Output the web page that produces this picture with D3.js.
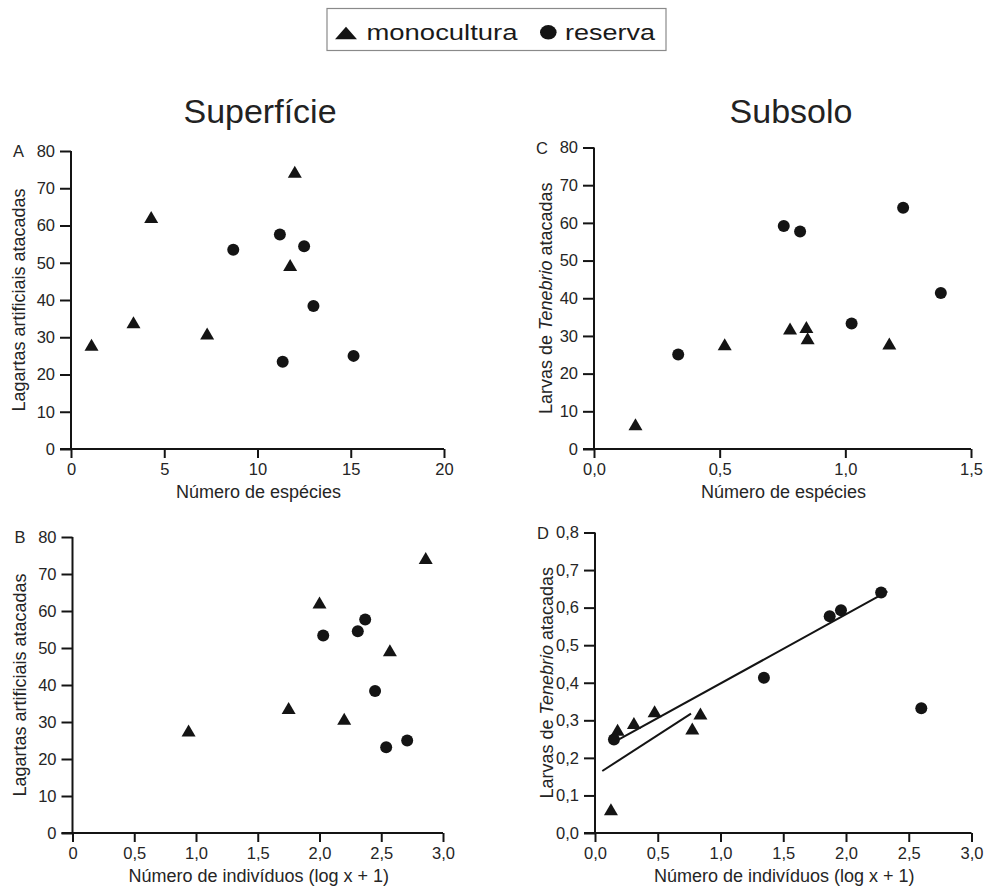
<!DOCTYPE html>
<html>
<head>
<meta charset="utf-8">
<script src="https://cdn.jsdelivr.net/npm/d3@7"></script>
<style>
  html, body { margin: 0; padding: 0; background: #fff; }
  svg { display: block; font-family: "Liberation Sans", Arial, sans-serif; }
</style>
</head>
<body>
<svg id="chart" width="987" height="890"></svg>
<script>
// ---------- DATA ----------
const seriesNames = ["monocultura", "reserva"];
const columnTitles = ["Superfície", "Subsolo"];

// Panel A: Superfície, número de espécies
const A_mono_x = [1.1, 3.35, 4.3, 7.3, 11.75, 12.0];
const A_mono_y = [28.0, 34.0, 62.3, 31.0, 49.4, 74.4];
const A_res_x  = [8.7, 11.2, 12.5, 13.0, 11.35, 15.15];
const A_res_y  = [53.5, 57.6, 54.4, 38.4, 23.4, 25.0];

// Panel B: Superfície, número de indivíduos
const B_mono_x = [0.94, 1.75, 2.0, 2.2, 2.57, 2.86];
const B_mono_y = [27.7, 33.8, 62.3, 30.9, 49.4, 74.3];
const B_res_x  = [2.03, 2.31, 2.37, 2.45, 2.54, 2.71];
const B_res_y  = [53.4, 54.5, 57.7, 38.4, 23.2, 25.0];

// Panel C: Subsolo, número de espécies
const C_mono_x = [0.165, 0.52, 0.78, 0.845, 0.85, 1.175];
const C_mono_y = [6.6, 27.8, 32.0, 32.4, 29.4, 28.0];
const C_res_x  = [0.335, 0.755, 0.82, 1.025, 1.23, 1.38];
const C_res_y  = [25.1, 59.2, 57.7, 33.3, 64.0, 41.4];

// Panel D: Subsolo, número de indivíduos
const D_mono_x = [0.127, 0.18, 0.31, 0.475, 0.775, 0.84];
const D_mono_y = [0.063, 0.275, 0.293, 0.324, 0.278, 0.318];
const D_res_x  = [0.151, 1.346, 1.87, 1.96, 2.28, 2.60];
const D_res_y  = [0.249, 0.413, 0.577, 0.593, 0.640, 0.332];

// Fitted lines in panel D (endpoints as drawn)
const D_fit_res_x  = [0.18, 2.33];
const D_fit_res_y  = [0.247, 0.643];
const D_fit_mono_x = [0.058, 0.765];
const D_fit_mono_y = [0.165, 0.318];

// Tick values and labels
const ticksY80 = [0, 10, 20, 30, 40, 50, 60, 70, 80];
const ticksY80Labels = ["0","10","20","30","40","50","60","70","80"];
const ticksXA = [0, 5, 10, 15, 20];
const ticksXALabels = ["0","5","10","15","20"];
const ticksXB = [0, 0.5, 1, 1.5, 2, 2.5, 3];
const ticksXBLabels = ["0","0,5","1,0","1,5","2,0","2,5","3,0"];
const ticksXC = [0, 0.5, 1, 1.5];
const ticksXCLabels = ["0,0","0,5","1,0","1,5"];
const ticksXD = [0, 0.5, 1, 1.5, 2, 2.5, 3];
const ticksXDLabels = ["0,0","0,5","1,0","1,5","2,0","2,5","3,0"];
const ticksYD = [0, 0.1, 0.2, 0.3, 0.4, 0.5, 0.6, 0.7, 0.8];
const ticksYDLabels = ["0,0","0,1","0,2","0,3","0,4","0,5","0,6","0,7","0,8"];

// ---------- DRAW ----------
const svg = d3.select("#chart");
const INK = "#141414";
const TXT = "#252525";

function zip(xs, ys) { return xs.map((x, i) => ({x, y: ys[i]})); }

const triPath = (w, h) => `M0,${-h/2}L${w/2},${h/2}L${-w/2},${h/2}Z`;

function panel(cfg) {
  const x = d3.scaleLinear().domain(cfg.xDomain).range(cfg.xRange);
  const y = d3.scaleLinear().domain(cfg.yDomain).range(cfg.yRange);
  const g = svg.append("g");

  const xAxis = d3.axisBottom(x).tickValues(cfg.xTicks)
    .tickFormat((d, i) => cfg.xLabels[i]).tickSizeInner(9).tickSizeOuter(0).tickPadding(5);
  const yAxis = d3.axisLeft(y).tickValues(cfg.yTicks)
    .tickFormat((d, i) => cfg.yLabels[i]).tickSizeInner(11).tickSizeOuter(0).tickPadding(5);

  const ya = g.append("g").attr("transform", `translate(${cfg.xRange[0]},0)`).call(yAxis);
  const xa = g.append("g").attr("transform", `translate(0,${cfg.yRange[0]})`).call(xAxis);
  [xa, ya].forEach(a => {
    a.selectAll("path.domain").attr("stroke", INK).attr("stroke-width", 2);
    a.selectAll(".tick line").attr("stroke", INK).attr("stroke-width", 2);
    a.selectAll(".tick text").attr("fill", TXT).style("font-size", "16.5px")
      .style("font-family", '"Liberation Sans", Arial, sans-serif');
  });
  ya.select("path.domain").attr("d", `M0,${cfg.yRange[0]}V${cfg.yRange[1]}`);
  xa.select("path.domain").attr("d", `M${cfg.xRange[0] - 11},0H${cfg.xRange[1]}`);

  // panel letter
  g.append("text").attr("x", cfg.xRange[0] - 58).attr("y", cfg.yRange[1] + 6)
    .attr("fill", TXT).style("font-size", "16.5px").text(cfg.letter);

  // x label
  g.append("text").attr("x", (cfg.xRange[0] + cfg.xRange[1]) / 2 + 1)
    .attr("y", cfg.yRange[0] + 49).attr("text-anchor", "middle")
    .attr("fill", TXT).style("font-size", "18px").text(cfg.xTitle);

  // y label
  const yl = g.append("text")
    .attr("transform", `translate(${cfg.xRange[0] - cfg.yTitleOff},${(cfg.yRange[0] + cfg.yRange[1]) / 2}) rotate(-90)`)
    .attr("text-anchor", "middle").attr("fill", TXT).style("font-size", "18px");
  cfg.yTitle.forEach(p => {
    yl.append("tspan").style("font-style", p.italic ? "italic" : "normal").text(p.t);
  });

  // fit lines
  (cfg.fits || []).forEach(f => {
    g.append("path")
      .attr("d", d3.line().x(d => x(d.x)).y(d => y(d.y))(zip(f.x, f.y)))
      .attr("stroke", INK).attr("stroke-width", 2).attr("fill", "none");
  });

  // points
  g.selectAll("circle.res").data(zip(cfg.resX, cfg.resY)).join("circle")
    .attr("class", "res").attr("cx", d => x(d.x)).attr("cy", d => y(d.y))
    .attr("r", 6).attr("fill", INK);
  g.selectAll("path.mono").data(zip(cfg.monoX, cfg.monoY)).join("path")
    .attr("class", "mono").attr("d", triPath(14, 12))
    .attr("transform", d => `translate(${x(d.x)},${y(d.y)})`).attr("fill", INK);
}

const yTitleA = [{t: "Lagartas artificiais atacadas"}];
const yTitleC = [{t: "Larvas de "}, {t: "Tenebrio", italic: true}, {t: " atacadas"}];

panel({letter: "A", xDomain: [0, 20], xRange: [71, 444], yDomain: [0, 80], yRange: [449, 151],
  xTicks: ticksXA, xLabels: ticksXALabels, yTicks: ticksY80, yLabels: ticksY80Labels,
  xTitle: "Número de espécies", yTitle: yTitleA, yTitleOff: 46,
  monoX: A_mono_x, monoY: A_mono_y, resX: A_res_x, resY: A_res_y});

panel({letter: "B", xDomain: [0, 3], xRange: [72.5, 443], yDomain: [0, 80], yRange: [833, 537],
  xTicks: ticksXB, xLabels: ticksXBLabels, yTicks: ticksY80, yLabels: ticksY80Labels,
  xTitle: "Número de indivíduos (log x + 1)", yTitle: yTitleA, yTitleOff: 46.5,
  monoX: B_mono_x, monoY: B_mono_y, resX: B_res_x, resY: B_res_y});

panel({letter: "C", xDomain: [0, 1.5], xRange: [594, 971], yDomain: [0, 80], yRange: [449, 147.5],
  xTicks: ticksXC, xLabels: ticksXCLabels, yTicks: ticksY80, yLabels: ticksY80Labels,
  xTitle: "Número de espécies", yTitle: yTitleC, yTitleOff: 42,
  monoX: C_mono_x, monoY: C_mono_y, resX: C_res_x, resY: C_res_y});

panel({letter: "D", xDomain: [0, 3], xRange: [595, 971.5], yDomain: [0, 0.8], yRange: [833, 532.5],
  xTicks: ticksXD, xLabels: ticksXDLabels, yTicks: ticksYD, yLabels: ticksYDLabels,
  xTitle: "Número de indivíduos (log x + 1)", yTitle: yTitleC, yTitleOff: 42,
  monoX: D_mono_x, monoY: D_mono_y, resX: D_res_x, resY: D_res_y,
  fits: [{x: D_fit_res_x, y: D_fit_res_y}, {x: D_fit_mono_x, y: D_fit_mono_y}]});

// column titles
svg.append("text").attr("x", 260).attr("y", 123).attr("text-anchor", "middle")
  .attr("fill", "#222").style("font-size", "34px").text(columnTitles[0]);
svg.append("text").attr("x", 791).attr("y", 123).attr("text-anchor", "middle")
  .attr("fill", "#222").style("font-size", "34px").text(columnTitles[1]);

// legend
const lg = svg.append("g");
lg.append("rect").attr("x", 327).attr("y", 8.5).attr("width", 339).attr("height", 42)
  .attr("fill", "#fff").attr("stroke", "#8a8a8a").attr("stroke-width", 1.2);
lg.append("path").attr("d", triPath(22, 12.5)).attr("transform", "translate(346,33)").attr("fill", INK);
lg.append("text").attr("x", 366.5).attr("y", 39.5).attr("fill", "#1a1a1a").style("font-size", "22px")
  .attr("textLength", 151).attr("lengthAdjust", "spacingAndGlyphs").text(seriesNames[0]);
lg.append("ellipse").attr("cx", 548.3).attr("cy", 32.3).attr("rx", 8.3).attr("ry", 7.3).attr("fill", INK);
lg.append("text").attr("x", 565).attr("y", 39.5).attr("fill", "#1a1a1a").style("font-size", "22px")
  .attr("textLength", 90).attr("lengthAdjust", "spacingAndGlyphs").text(seriesNames[1]);
</script>
</body>
</html>
